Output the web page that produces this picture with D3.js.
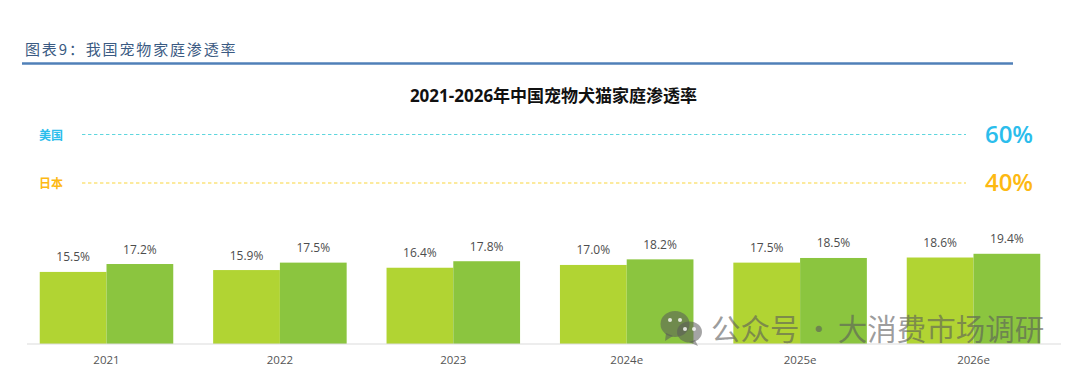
<!DOCTYPE html>
<html>
<head>
<meta charset="utf-8">
<script src="https://cdn.jsdelivr.net/npm/d3@7"></script>
<style>
  html, body { margin: 0; padding: 0; background: #fff; }
  svg { display: block; }
  text { font-family: "Open Sans", "Noto Sans CJK SC", sans-serif; }
</style>
</head>
<body>
<svg id="chart"></svg>
<script>
const years = ["2021", "2022", "2023", "2024e", "2025e", "2026e"];
const dogs = [15.5, 15.9, 16.4, 17.0, 17.5, 18.6];
const cats = [17.2, 17.5, 17.8, 18.2, 18.5, 19.4];
const benchNames = ["美国", "日本"];
const benchValues = [60, 40];

const width = 1080, height = 372;
const cjk = '"Noto Sans CJK SC", sans-serif';
const barColors = ["#b1d433", "#8bc53f"];
const benchText = ["#2bbdec", "#fdb913"];
const benchLine = ["#5fd6de", "#fad53c"];

const svg = d3.select("#chart")
    .attr("width", width)
    .attr("height", height)
    .attr("viewBox", [0, 0, width, height]);

// report header
svg.append("text")
    .attr("x", 25).attr("y", 54.5)
    .attr("font-size", 15)
    .attr("letter-spacing", 1.85)
    .attr("font-weight", 400)
    .attr("fill", "#3a5a82")
    .style("font-family", cjk)
    .text("图表9：我国宠物家庭渗透率");

svg.append("line")
    .attr("x1", 22).attr("x2", 1013)
    .attr("y1", 63.5).attr("y2", 63.5)
    .attr("stroke", "#5080b8")
    .attr("stroke-width", 2.4);

svg.append("text")
    .attr("x", 553.5).attr("y", 101.5)
    .attr("text-anchor", "middle")
    .attr("font-size", 17)
    .attr("font-weight", 700)
    .attr("fill", "#111")
    .text("2021-2026年中国宠物犬猫家庭渗透率");

// scales
const x = d3.scaleBand()
    .domain(years)
    .range([19.8, 1060.2])
    .paddingInner(0.23)
    .paddingOuter(0.115);

const x1 = d3.scaleBand()
    .domain([0, 1])
    .range([0, x.bandwidth()]);

const y = d3.scaleLinear()
    .domain([0, 20])
    .range([344, 251]);

const yBench = d3.scalePoint()
    .domain(benchNames)
    .range([134.5, 183]);

// benchmark rows
const bench = svg.append("g")
    .selectAll("g")
    .data(benchNames)
    .join("g")
    .attr("transform", d => `translate(0,${yBench(d)})`);

bench.append("line")
    .attr("x1", 82).attr("x2", 966)
    .attr("stroke", (d, i) => benchLine[i])
    .attr("stroke-width", 1.2)
    .attr("stroke-dasharray", "3.4 2.6");

bench.append("text")
    .attr("x", 51).attr("y", 5)
    .attr("text-anchor", "middle")
    .attr("font-size", 12)
    .attr("font-weight", 700)
    .attr("fill", (d, i) => benchText[i])
    .style("font-family", cjk)
    .text(d => d);

bench.append("text")
    .attr("x", 1009).attr("y", 8)
    .attr("text-anchor", "middle")
    .attr("font-size", 24)
    .attr("font-weight", 600)
    .attr("fill", (d, i) => benchText[i])
    .text((d, i) => benchValues[i] + "%");

// bars
const series = [dogs, cats];

const groups = svg.append("g")
    .selectAll("g")
    .data(years)
    .join("g")
    .attr("transform", d => `translate(${x(d)},0)`);

groups.selectAll("rect")
    .data((d, i) => series.map(s => s[i]))
    .join("rect")
    .attr("x", (d, i) => x1(i))
    .attr("y", d => y(d))
    .attr("width", x1.bandwidth())
    .attr("height", d => y(0) - y(d))
    .attr("fill", (d, i) => barColors[i]);

groups.selectAll("text.val")
    .data((d, i) => series.map(s => s[i]))
    .join("text")
    .attr("class", "val")
    .attr("x", (d, i) => x1(i) + x1.bandwidth() / 2)
    .attr("y", d => y(d) - 10.5)
    .attr("text-anchor", "middle")
    .attr("font-size", 12)
    .attr("fill", "#4d4d4d")
    .text(d => d.toFixed(1) + "%");

// axis
const axis = svg.append("g")
    .attr("transform", `translate(0,${y(0)})`)
    .call(d3.axisBottom(x).tickSize(0).tickPadding(12));

axis.select(".domain").remove();
axis.selectAll("text")
    .attr("font-size", 11.5)
    .attr("fill", "#555")
    .style("font-family", '"Open Sans", sans-serif');

axis.append("line")
    .attr("x1", 27).attr("x2", 1061)
    .attr("stroke", "#dcdcdc")
    .attr("stroke-width", 1.2);

// watermark
const mark = svg.append("g").attr("fill", "#5a5a5a").attr("fill-opacity", 0.55);
mark.append("ellipse").attr("cx", 675).attr("cy", 324).attr("rx", 14.5).attr("ry", 13);
mark.append("path").attr("d", "M666 333 L665 341 L673 336 Z");
mark.append("ellipse").attr("cx", 689.5).attr("cy", 332).attr("rx", 12.5).attr("ry", 10.5);
mark.append("path").attr("d", "M695 340 L698 346 L689 342 Z");
[[670, 320], [680, 320], [685, 329], [694, 329]].forEach(p => {
    svg.append("circle").attr("cx", p[0]).attr("cy", p[1]).attr("r", 2).attr("fill", "#fff").attr("fill-opacity", 0.8);
});

svg.append("text")
    .attr("x", 711).attr("y", 340)
    .attr("font-size", 29.5)
    .attr("font-weight", 400)
    .attr("word-spacing", -2.2)
    .attr("fill", "#5a5a5a")
    .attr("fill-opacity", 0.6)
    .style("font-family", cjk)
    .text("公众号 · 大消费市场调研");
</script>
</body>
</html>
